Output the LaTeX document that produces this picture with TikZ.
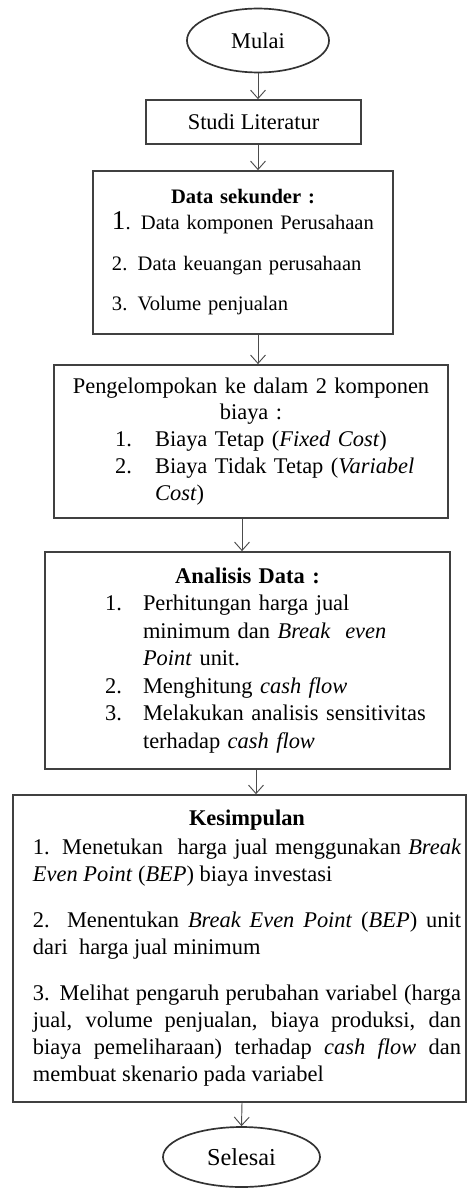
\documentclass[tikz,border=0pt]{standalone}
\usepackage{fontspec}
\setmainfont{Liberation Serif}
\usetikzlibrary{shapes.geometric, arrows.meta, positioning}
\setlength{\parindent}{0pt}

\newlength\numskip % space before the number of an item
\newlength\numwd   % width taken by the number
\newcommand\numline[2]{% number, first line of the item
  \hspace*{\numskip}\makebox[\numwd][l]{#1}#2}
\newcommand\contline[1]{% next line of the same item
  \hspace*{\dimexpr\numskip+\numwd\relax}#1}

\tikzset{
  box/.style={draw=black!75, line width=0.9pt, inner sep=0pt, align=left,
    font=\fontsize{12}{14.4}\selectfont},
  term/.style={ellipse, draw=black!80, line width=0.9pt, inner sep=0pt,
    font=\fontsize{12}{14.4}\selectfont},
  flow/.style={draw=black!70, line width=0.5pt, -{Straight Barb[length=4.5pt, width=8pt]}}
}

\begin{document}
\begin{tikzpicture}[x=0.535pt, y=-0.535pt]
  \useasboundingbox (0,0) rectangle (468,1189);
  % columns of the arrows
  \coordinate (colA) at (258,0);
  \coordinate (colB) at (242,0);
  \coordinate (colC) at (256,0);

  \node[term, minimum width=76pt, minimum height=34.2pt] (mulai) at (258,40.5) {Mulai};
  \node[box, minimum width=115pt, minimum height=23.5pt] (studi) at (253.5,122) {Studi Literatur};

  \node[box, minimum width=160.5pt, minimum height=87.2pt, text width=140.2pt,
    font=\fontsize{11}{13.4}\selectfont] (data) at (243,252.5) {%
    {\centering\bfseries Data sekunder :\par}
    {\fontsize{14.5}{14}\selectfont 1}. Data komponen Perusahaan\par\vspace{9pt}
    2. Data keuangan perusahaan\par\vspace{8pt}
    3. Volume penjualan};

  \node[box, minimum width=210.8pt, minimum height=81.9pt, text width=200pt] (peng) at (251,441.5) {%
    \setlength\numskip{27.3pt}\setlength\numwd{21.4pt}%
    {\centering Pengelompokan ke dalam 2 komponen\\ biaya :\par}
    \numline{1.}{Biaya Tetap (\textit{Fixed Cost})}\\
    \numline{2.}{Biaya Tidak Tetap (\textit{Variabel}}\\
    \contline{\textit{Cost})}};

  \node[box, minimum width=216.7pt, minimum height=116.1pt, text width=206pt,
    font=\fontsize{12}{14.7}\selectfont] (anal) at (247.5,660.5) {%
    \setlength\numskip{26.8pt}\setlength\numwd{20.3pt}%
    {\centering\bfseries Analisis Data :\par}
    \numline{1.}{Perhitungan harga jual}\\
    \contline{minimum dan \textit{Break\ \ even}}\\
    \contline{\textit{Point} unit.}\\
    \numline{2.}{Menghitung \textit{cash flow}}\\
    \numline{3.}{Melakukan analisis sensitivitas}\\
    \contline{terhadap \textit{cash flow}}};

  % text sits a little to the right inside this box
  \node[box, align=justify, minimum width=242.4pt, minimum height=164.2pt, text width=237pt,
    font=\fontsize{12}{14.5}\selectfont] (kes) at (239.5,948.5) {%
    \hyphenpenalty=10000 \exhyphenpenalty=10000 \tolerance=9999
    \leftskip=8pt
    {\leftskip=8pt plus 1fil\rightskip=0pt plus 1fil\parfillskip=0pt\bfseries Kesimpulan\par}
    \vspace{1pt}
    1. Menetukan\ \ harga jual menggunakan \textit{Break Even Point} (\textit{BEP}) biaya investasi\par
    \vspace{10pt}
    2. Menentukan \textit{Break Even Point} (\textit{BEP}) unit dari\ \ harga jual minimum\par
    \vspace{10pt}
    3. Melihat pengaruh perubahan variabel (harga jual, volume penjualan, biaya produksi, dan biaya pemeliharaan) terhadap \textit{cash flow} dan membuat skenario pada variabel\par};

  \node[term, minimum width=84pt, minimum height=32.1pt, font=\fontsize{13}{15}\selectfont] (selesai) at (241.5,1157) {Selesai};

  \draw[flow] (mulai.south) -- (studi.north -| mulai.south);
  \draw[flow] (studi.south -| colA) -- (data.north -| colA);
  \draw[flow] (data.south -| colA) -- (peng.north -| colA);
  \draw[flow] (peng.south -| colB) -- (anal.north -| colB);
  \draw[flow] (anal.south -| colC) -- (kes.north -| colC);
  \draw[flow] (kes.south -| colB) -- (selesai.north);
\end{tikzpicture}
\end{document}
